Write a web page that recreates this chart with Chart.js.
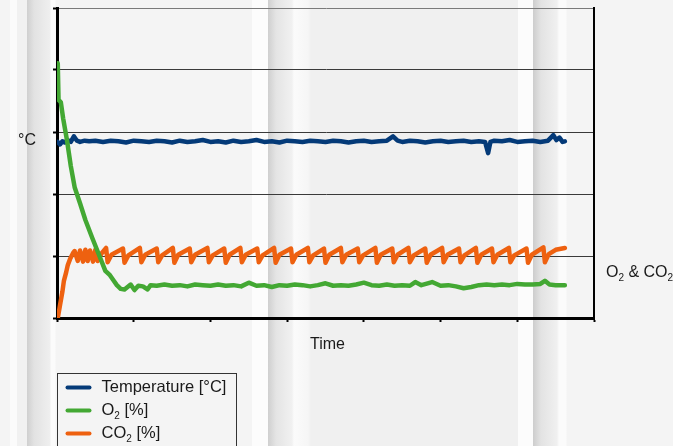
<!DOCTYPE html>
<html lang="en">
<head>
    <meta charset="UTF-8">
    <title>Temperature, O2 and CO2 over time</title>
    <script src="https://cdn.jsdelivr.net/npm/chart.js@4.4.1/dist/chart.umd.min.js"></script>
    <style>
        html, body {
            margin: 0;
            padding: 0;
            width: 673px;
            height: 446px;
            overflow: hidden;
        }
        body {
            /* striped backdrop behind the chart */
            background: linear-gradient(to right,
                #f4f4f4 0px, #f4f4f4 10px, #fbfbfb 10px, #fbfbfb 17px, #f1f1f1 17px, #f1f1f1 27px,
                #cfcfcf 27px, #e2e2e2 34px, #efefef 50px, #fbfbfb 51px, #fbfbfb 55px, #f4f4f4 56px,
                #f4f4f4 252px, #fcfcfc 252px, #fcfcfc 268px, #cfcfcf 268px, #e4e4e4 276px, #f1f1f1 292px,
                #fbfbfb 294px, #f6f6f6 308px, #f0f0f0 311px,
                #f0f0f0 518px, #fcfcfc 518px, #fcfcfc 533px, #cdcdcd 533px, #e3e3e3 541px, #f0f0f0 557px,
                #fbfbfb 559px, #fbfbfb 566px, #f4f4f4 567px, #f4f4f4 673px);
        }
        canvas { display: block; }
    </style>
</head>
<body>
    <canvas id="gasChart" width="673" height="446"></canvas>

    <script>
        // values (time axis 0..7, both value axes 0..5, no tick labels)
        const seriesLabels = ['Temperature [°C]', 'O₂ [%]', 'CO₂ [%]'];
        const seriesColors = ['#043a78', '#43a833', '#ee6110'];
        const xTicks = [0, 1, 2, 3, 4, 5, 6, 7];
        const yTicks = [0, 1, 2, 3, 4, 5];

        const tempTime = [0.01, 0.04, 0.07, 0.10, 0.14, 0.18, 0.22, 0.26, 0.30, 0.36, 0.42, 0.50, 0.60, 0.70, 0.80, 0.90,
            1.00, 1.10, 1.20, 1.30, 1.40, 1.50, 1.60, 1.70, 1.80, 1.90, 2.00, 2.10, 2.20, 2.30, 2.40, 2.50, 2.60, 2.70,
            2.80, 2.90, 3.00, 3.10, 3.20, 3.30, 3.40, 3.50, 3.60, 3.70, 3.80, 3.90, 4.00, 4.10, 4.20, 4.30, 4.38, 4.44,
            4.50, 4.60, 4.70, 4.80, 4.90, 5.00, 5.10, 5.20, 5.30, 5.40, 5.50, 5.58, 5.62, 5.65, 5.70, 5.80, 5.90, 6.00,
            6.10, 6.20, 6.30, 6.40, 6.47, 6.51, 6.55, 6.59, 6.62];
        const tempValues = [2.84, 2.80, 2.85, 2.83, 2.87, 2.84, 2.93, 2.86, 2.84, 2.86, 2.85, 2.86, 2.84, 2.86, 2.85, 2.83,
            2.86, 2.85, 2.84, 2.86, 2.85, 2.83, 2.86, 2.84, 2.85, 2.87, 2.84, 2.85, 2.83, 2.86, 2.84, 2.85, 2.87, 2.84,
            2.85, 2.83, 2.86, 2.85, 2.84, 2.86, 2.85, 2.84, 2.86, 2.85, 2.83, 2.85, 2.86, 2.84, 2.85, 2.86, 2.93, 2.86,
            2.84, 2.86, 2.85, 2.83, 2.85, 2.86, 2.84, 2.85, 2.86, 2.84, 2.85, 2.84, 2.66, 2.84, 2.86, 2.85, 2.87, 2.84,
            2.85, 2.86, 2.84, 2.86, 2.95, 2.87, 2.91, 2.84, 2.85];

        const o2Time = [0.01, 0.02, 0.05, 0.08, 0.13, 0.18, 0.23, 0.30, 0.37, 0.46, 0.56, 0.63, 0.69, 0.74, 0.78, 0.83,
            0.88, 0.92, 0.96, 1.01, 1.06, 1.12, 1.18, 1.22, 1.30, 1.40, 1.50, 1.60, 1.70, 1.80, 1.90, 2.00, 2.10, 2.20,
            2.30, 2.40, 2.50, 2.60, 2.70, 2.80, 2.90, 3.00, 3.10, 3.20, 3.30, 3.40, 3.50, 3.60, 3.70, 3.80, 3.90, 4.00,
            4.10, 4.20, 4.30, 4.40, 4.50, 4.60, 4.67, 4.75, 4.89, 5.00, 5.10, 5.20, 5.30, 5.40, 5.50, 5.60, 5.70, 5.80,
            5.90, 6.00, 6.10, 6.20, 6.30, 6.36, 6.42, 6.50, 6.62];
        const o2Values = [4.11, 3.52, 3.48, 3.22, 2.87, 2.45, 2.11, 1.85, 1.58, 1.29, 0.98, 0.76, 0.69, 0.60, 0.53, 0.47,
            0.46, 0.50, 0.54, 0.45, 0.52, 0.51, 0.46, 0.53, 0.52, 0.54, 0.52, 0.53, 0.51, 0.54, 0.53, 0.52, 0.54, 0.52,
            0.53, 0.51, 0.57, 0.52, 0.53, 0.50, 0.53, 0.52, 0.54, 0.53, 0.51, 0.53, 0.56, 0.52, 0.53, 0.52, 0.54, 0.57,
            0.53, 0.52, 0.54, 0.52, 0.53, 0.52, 0.58, 0.53, 0.58, 0.52, 0.53, 0.51, 0.48, 0.50, 0.53, 0.54, 0.53, 0.54,
            0.53, 0.55, 0.54, 0.54, 0.55, 0.60, 0.54, 0.53, 0.53];

        const co2Time = [0.01, 0.04, 0.07, 0.09, 0.12, 0.14, 0.17, 0.21,
            0.23, 0.27, 0.30, 0.34, 0.37, 0.40, 0.43, 0.47, 0.50, 0.53, 0.58,
            0.64, 0.66, 0.71, 0.86, 0.88, 0.93, 1.08, 1.10, 1.15, 1.30, 1.32, 1.37,
            1.51, 1.53, 1.58, 1.73, 1.75, 1.80, 1.96, 1.98, 2.03, 2.18, 2.20, 2.25,
            2.39, 2.41, 2.46, 2.61, 2.63, 2.68, 2.83, 2.85, 2.90, 3.05, 3.07, 3.12,
            3.27, 3.29, 3.34, 3.48, 3.50, 3.55, 3.70, 3.72, 3.77, 3.92, 3.94, 3.99,
            4.15, 4.17, 4.22, 4.37, 4.39, 4.44, 4.58, 4.60, 4.65, 4.80, 4.82, 4.87,
            5.02, 5.04, 5.09, 5.24, 5.26, 5.31, 5.46, 5.48, 5.53, 5.67, 5.69, 5.74,
            5.89, 5.91, 5.96, 6.12, 6.14, 6.19, 6.34, 6.36, 6.41, 6.50, 6.62];
        const co2Values = [0.00, 0.21, 0.42, 0.60, 0.74, 0.85, 0.95, 1.05,
            1.08, 0.92, 1.09, 0.91, 1.10, 0.92, 1.09, 0.91, 1.10, 0.92, 1.04,
            1.13, 0.90, 1.02, 1.12, 0.89, 1.01, 1.13, 0.90, 1.02, 1.12, 0.90, 1.01,
            1.13, 0.89, 1.02, 1.12, 0.90, 1.02, 1.13, 0.90, 1.01, 1.12, 0.89, 1.02,
            1.13, 0.90, 1.02, 1.12, 0.90, 1.01, 1.13, 0.89, 1.02, 1.12, 0.90, 1.02,
            1.13, 0.90, 1.01, 1.12, 0.89, 1.02, 1.13, 0.90, 1.02, 1.12, 0.90, 1.01,
            1.13, 0.89, 1.02, 1.12, 0.90, 1.02, 1.13, 0.90, 1.01, 1.12, 0.89, 1.02,
            1.13, 0.90, 1.02, 1.12, 0.90, 1.01, 1.13, 0.89, 1.02, 1.12, 0.90, 1.02,
            1.13, 0.90, 1.01, 1.12, 0.89, 1.02, 1.14, 0.90, 1.03, 1.10, 1.13];

        const FONT = '"Liberation Sans", Arial, sans-serif';

        function toPoints(times, values) {
            return times.map((t, i) => ({ x: t, y: values[i] }));
        }

        // text with "₂" drawn as a small lowered 2
        function drawSubText(ctx, text, x, y, size) {
            ctx.textBaseline = 'middle';
            ctx.textAlign = 'left';
            const parts = text.split('₂');
            parts.forEach((part, i) => {
                ctx.font = size + 'px ' + FONT;
                ctx.fillText(part, x, y);
                x += ctx.measureText(part).width;
                if (i < parts.length - 1) {
                    ctx.font = Math.round(size * 0.62) + 'px ' + FONT;
                    ctx.fillText('2', x, y + size * 0.32);
                    x += ctx.measureText('2').width;
                }
            });
            return x;
        }

        const textPlugin = {
            id: 'texts',
            afterDraw(chart) {
                const ctx = chart.ctx;
                const area = chart.chartArea;
                ctx.save();
                ctx.fillStyle = '#1a1a1a';
                drawSubText(ctx, '°C', 18, chart.scales.y.getPixelForValue(2.86), 16);
                drawSubText(ctx, 'O₂ & CO₂', area.right + 12, chart.scales.y1.getPixelForValue(0.73), 16);
                ctx.font = '16px ' + FONT;
                ctx.textAlign = 'center';
                ctx.textBaseline = 'middle';
                ctx.fillText('Time', (area.left + area.right) / 2 + 2, area.bottom + 27);

                // legend box, bottom left under the plot
                const bx = area.left + 0.5, by = area.bottom + 55.5;
                ctx.strokeStyle = '#333';
                ctx.lineWidth = 1;
                ctx.strokeRect(bx, by, 179, 90);
                seriesLabels.forEach((label, i) => {
                    const ly = by + 14 + i * 23;
                    ctx.strokeStyle = seriesColors[i];
                    ctx.lineWidth = 4;
                    ctx.lineCap = 'round';
                    ctx.beginPath();
                    ctx.moveTo(bx + 10, ly);
                    ctx.lineTo(bx + 32, ly);
                    ctx.stroke();
                    ctx.fillStyle = '#1a1a1a';
                    drawSubText(ctx, label, bx + 44, ly, 16.5);
                });
                ctx.restore();
            }
        };

        const lineStyle = {
            borderWidth: 4.5,
            pointRadius: 0,
            tension: 0,
            borderJoinStyle: 'round',
            borderCapStyle: 'round',
            fill: false
        };

        const ctx = document.getElementById('gasChart').getContext('2d');
        const gasChart = new Chart(ctx, {
            type: 'line',
            data: {
                datasets: [
                    Object.assign({ label: seriesLabels[0], data: toPoints(tempTime, tempValues), borderColor: seriesColors[0], yAxisID: 'y', order: 2 }, lineStyle),
                    Object.assign({ label: seriesLabels[1], data: toPoints(o2Time, o2Values), borderColor: seriesColors[1], yAxisID: 'y1', order: 0 }, lineStyle),
                    Object.assign({ label: seriesLabels[2], data: toPoints(co2Time, co2Values), borderColor: seriesColors[2], yAxisID: 'y1', order: 1 }, lineStyle)
                ]
            },
            options: {
                responsive: false,
                animation: false,
                layout: { padding: { top: 8, left: 0, right: 0, bottom: 0 } },
                plugins: {
                    legend: { display: false },
                    tooltip: { enabled: false },
                    title: { display: false }
                },
                scales: {
                    x: {
                        type: 'linear',
                        min: xTicks[0],
                        max: xTicks[xTicks.length - 1],
                        afterBuildTicks: scale => { scale.ticks = xTicks.map(v => ({ value: v })); },
                        afterFit: scale => { scale.height = 128; },
                        ticks: { display: false },
                        grid: { drawOnChartArea: false, drawTicks: true, tickLength: 4, tickColor: '#000', tickWidth: 2 },
                        border: { display: true, color: '#000', width: 3 }
                    },
                    y: {
                        position: 'left',
                        min: yTicks[0],
                        max: yTicks[yTicks.length - 1],
                        afterBuildTicks: scale => { scale.ticks = yTicks.map(v => ({ value: v })); },
                        afterFit: scale => { scale.width = 57; },
                        ticks: { display: false },
                        grid: {
                            color: c => c.tick && c.tick.value === 5 ? '#7a7a7a' : '#3a3a3a',
                            lineWidth: 1,
                            drawTicks: true,
                            tickLength: 4,
                            tickColor: '#000',
                            tickWidth: 2
                        },
                        border: { display: true, color: '#000', width: 3 }
                    },
                    y1: {
                        position: 'right',
                        min: yTicks[0],
                        max: yTicks[yTicks.length - 1],
                        afterFit: scale => { scale.width = 79; },
                        ticks: { display: false },
                        grid: { drawOnChartArea: false, drawTicks: false },
                        border: { display: true, color: '#000', width: 2 }
                    }
                }
            },
            plugins: [textPlugin]
        });
    </script>
</body>
</html>
